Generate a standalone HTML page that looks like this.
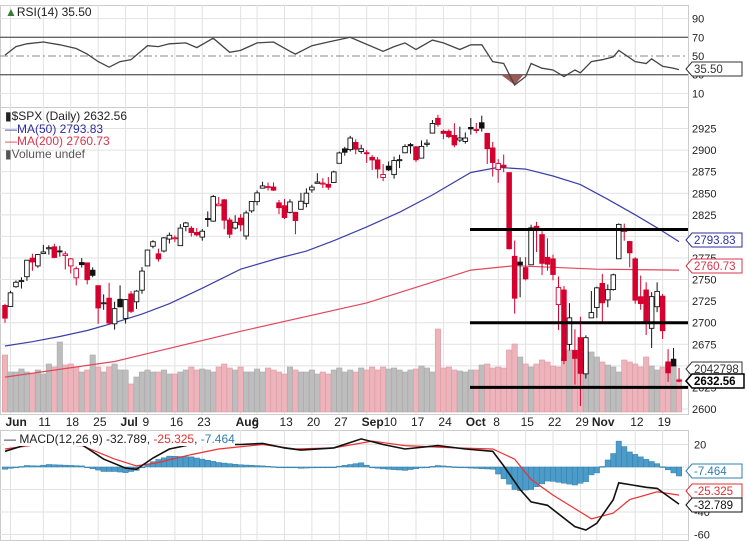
<!DOCTYPE html>
<html><head><meta charset="utf-8">
<style>
body{margin:0;background:#fff;}
svg{display:block;font-family:"Liberation Sans",sans-serif;}
</style></head>
<body>
<svg id="chart" width="747" height="541" viewBox="0 0 747 541" xmlns="http://www.w3.org/2000/svg"></svg>
<script>
// ---- DATA ----
const opens=[2720,2718.7,2741.7,2748.5,2753.3,2774.8,2765.8,2780.2,2785.6,2787.9,2783.2,2777.8,2765.8,2752.0,2769.7,2769.3,2760.8,2742.9,2722.1,2728.4,2698.7,2727.1,
2704.95,2733.3,2724.2,2737.7,2765.8,2788.6,2779.8,2783.1,2796.9,2797.4,2789.3,2811.4,2809.4,2804.6,2799.2,2820.7,2817.7,2835.5,2842.4,2819.0,2809.7,
2821.2,2800.5,2829.6,2840.3,2855.9,2856.8,2857.2,2838.9,2835.5,2827.9,2827.95,2831.4,2838.3,2853.9,2861.5,2861.0,2860.3,2862.4,2884.7,2901.45,2900.6,2908.9,2898.4,
2896.96,2891.6,2888.6,2868.3,2881.4,2871.6,2888.3,2896.9,2906.4,2903.8,2890.7,2906.6,2919.7,2936.8,2921.8,2921.8,2916.98,2911.65,2910.0,
2926.3,2923.8,2931.7,2919.4,2902.5,2877.5,2882.5,2873.9,2776.9,2770.2,2763.8,2767.1,2811.7,2802.0,2775.7,2773.9,2721.0,2737.9,2674.9,2667.9,2682.7,2640.7,2705.6,
2717.6,2745.5,2726.4,2738.4,2774.1,2806.4,2794.1,2773.9,2730.1,2737.9,2693.5,2718.5,2730.7,2654.6,2657.7,2633.4];
const closes=[2705.3,2734.6,2746.9,2748.8,2772.4,2770.4,2779.0,2782.0,2786.9,2775.6,2782.5,2779.7,2773.9,2762.6,2767.3,2749.8,2754.9,2717.1,2723.1,2699.6,2716.3,2718.4,
2726.7,2713.2,2736.6,2759.8,2784.2,2793.8,2774.0,2798.3,2801.3,2798.4,2809.6,2815.6,2804.5,2801.8,2806.0,2820.4,2846.1,2837.4,2818.8,2802.6,2816.3,
2813.4,2827.2,2840.4,2850.4,2858.5,2857.7,2853.6,2833.3,2821.9,2839.9,2818.4,2840.7,2850.1,2857.1,2863.0,2861.8,2857.0,2874.7,2896.7,2897.5,2914.0,2901.1,2901.5,
2896.7,2888.6,2878.1,2871.7,2877.1,2887.9,2888.9,2904.2,2905.0,2888.8,2904.3,2908.0,2930.8,2929.7,2919.4,2915.6,2906.0,2914.0,2914.0,
2924.6,2923.4,2925.5,2901.6,2885.6,2884.4,2880.3,2785.7,2728.4,2767.1,2750.8,2809.9,2809.2,2768.8,2767.8,2755.9,2740.7,2656.1,2705.6,2658.7,2641.3,2682.6,2711.7,
2740.4,2723.1,2738.3,2755.5,2813.9,2806.8,2781.0,2726.2,2722.2,2701.6,2730.2,2736.3,2690.7,2641.9,2649.9,2632.6];
const highs=[2722,2736.9,2749,2752.6,2772.4,2779.9,2779.4,2790.2,2789.8,2791.5,2789.1,2782.8,2775,2765.1,2774.9,2769.3,2764.2,2742.9,2732.9,2746.1,2724.3,2743.3,
2727.3,2736.6,2737.8,2764.4,2784.6,2795.6,2785.9,2799.2,2804.5,2801.2,2814.2,2816.8,2812.1,2809.7,2808.6,2829.0,2848.0,2845.6,2843.2,2821.7,2824.5,
2825.8,2829.9,2840.4,2853.3,2863.4,2862.4,2862.5,2842.2,2843.4,2843.1,2827.95,2850.5,2855.6,2859.8,2873.2,2867.5,2868.8,2876.2,2898.3,2903.8,2916.5,2912.5,2906.3,
2900.2,2894.2,2892.1,2883.8,2886.9,2892.5,2894.6,2906.8,2908.3,2904.7,2911.2,2912.4,2934.8,2940.9,2923.8,2924,2931.2,2927.2,2920.5,
2937.1,2931.4,2939.9,2919.8,2909.6,2889.5,2894.8,2874.0,2795.1,2775.8,2776,2813.5,2816.9,2806.0,2797.8,2778.9,2753.6,2742.6,2722.7,2692.4,2706.9,2685.4,2736.7,
2741.7,2756.6,2744.3,2756.8,2815.1,2814.8,2794.1,2776,2754.6,2746.8,2735.4,2746.75,2733.2,2669.4,2670.7,2647.6];
const lows=[2700,2718.7,2740.5,2739.5,2748.5,2760.2,2763.6,2780.2,2778.8,2774.7,2776.5,2761.7,2757.1,2743.2,2763.9,2744.4,2752.7,2698.7,2714.9,2698.0,2692,2718.0,
2699,2711.2,2716.0,2733.5,2765.8,2786.2,2770.8,2781.5,2791.7,2793.4,2789.2,2805.9,2799.8,2800.0,2795.1,2811.1,2817.0,2835.3,2808.3,2798.1,2808.1,
2805.9,2796.3,2827.4,2836,2855.9,2853.1,2852.7,2825.8,2819.9,2826.6,2802.5,2831.4,2833.7,2850.6,2861.3,2856.1,2854.0,2862.4,2884.7,2893.5,2898.4,2895.2,2895.8,
2885.1,2876.9,2867.3,2864.1,2875.9,2866.8,2879.2,2896.4,2895.8,2886.2,2890.4,2903.8,2919.7,2927.1,2912.6,2913.7,2903.3,2909.3,2907.5,
2917.9,2919.4,2921.4,2883.9,2869.3,2862.1,2874.3,2784.9,2710.5,2729.4,2749.0,2766.9,2781.8,2755.2,2760.3,2749.2,2691.4,2651.9,2667.8,2628.2,2603.5,2635.3,2705.6,
2705.6,2700.4,2717.9,2737.1,2774.1,2795,2764.2,2722.0,2715,2685.8,2670.75,2712.2,2681.1,2631.5,2649.8,2631.1];
const volumes=[57,40,40,43,40,38,42,38,48,45,70,47,48,45,40,42,57,45,40,45,48,42,
42,28,35,40,42,40,40,42,38,38,40,42,45,42,43,42,40,45,48,44,42,
45,40,40,43,40,44,42,40,38,45,42,40,40,42,38,40,38,42,44,40,42,40,44,
42,45,42,45,43,44,42,40,42,43,46,44,40,83,44,45,42,41,40,
42,42,47,48,44,45,44,62,68,55,48,45,48,52,50,46,45,55,62,54,48,58,60,
55,50,47,45,40,52,50,48,45,55,46,42,45,48,46,33];
const ma50Idx=[0,5,10,15,20,25,30,36,43,50,55,60,66,72,78,85,90,95,100,105,110,115,119,123];
const ma50Val=[2673,2678,2684,2691,2700,2710,2722,2740,2762,2775,2783,2795,2811,2828,2848,2874,2880,2878,2870,2860,2843,2825,2810,2794];
const ma200Idx=[0,20,43,66,85,93,108,123];
const ma200Val=[2637,2655,2690,2723,2761,2766,2762,2761];
const rsiIdx=[0,2,4,7,10,13,15,17,19,21,23,26,28,30,33,35,38,41,43,46,49,52,53,56,59,63,65,69,71,73,75,78,80,83,85,87,89,91,93,95,96,98,100,102,104,105,107,109,111,112,115,117,118,120,122,123];
const rsiVal=[51,60,63,65,62,58,52,44,38,44,46,61,60,63,64,59,69,54,56,64,65,55,52,61,65,70,65,55,60,64,57,67,64,57,62,62,44,42,19,28,42,37,35,28,35,32,44,46,49,56,44,42,47,39,37,35.5];
const macdIdx=[0,4,8,14,18,22,24,27,30,34,37,43,47,51,54,60,65,69,73,79,84,89,91,94,96,99,104,106,108,111,112,117,119,123];
const macdVal=[14,20,22,20,7,-1,-2,8,16,20,20,20,21,17,15,17,25,20,16,19,16,14,1,-20,-31,-34,-53,-56,-50,-29,-14,-18,-19,-33];
const sigIdx=[0,6,14,20,24,28,34,39,47,53,60,67,73,82,89,93,96,100,104,107,111,114,119,123];
const sigVal=[16,20,19,7,1,4,11,16,20,16,17,23,19,17,16,7,-11,-25,-37,-46,-41,-29,-22,-25];
const priceTicks=[2600,2625,2650,2675,2700,2725,2750,2775,2800,2825,2850,2875,2900,2925];
const rsiTicks=[10,30,50,70,90];
const macdTicks=[20,0,-20,-40,-60];
const dateLabels=["Jun","11","18","25","Jul","9","16","23","Aug","6","13","20","27","Sep","10","17","24","Oct","8","15","22","29","Nov","12","19"];
const dateIdx=[1,7,12,17,22,26,31,36,43,46,51,56,61,66,70,75,80,85,90,95,100,105,108,115,120];
const levelLines=[2808,2700,2625];

// ---- AXES ----
const PR=688;
const xi=i=>5+i*5.48;
const yP=p=>409-(p-2600)*0.863;
const yR=r=>56-(r-50)*0.935;
const yM=m=>467-m*1.125;
const yV=v=>412-v;
const svg=document.getElementById('chart');
const NS='http://www.w3.org/2000/svg';
function el(tag,attrs,parent){const e=document.createElementNS(NS,tag);for(const k in attrs)e.setAttribute(k,attrs[k]);(parent||svg).appendChild(e);return e;}
function txt(s,attrs,parent){const e=el('text',attrs,parent);e.textContent=s;return e;}
function interp(idx,val){const out=[];for(let i=0;i<=123;i++){let k=0;while(k<idx.length-2&&idx[k+1]<i)k++;const t=(i-idx[k])/(idx[k+1]-idx[k]);out.push(val[k]+(val[k+1]-val[k])*Math.max(0,Math.min(1,t)));}return out;}
function pathOf(idx,val,yf){return idx.map((d,j)=>(j?'L':'M')+xi(d).toFixed(1)+' '+yf(val[j]).toFixed(1)).join(' ');}

const panels=[[5,107,'rsi-panel'],[107,414,'price-panel'],[430,540,'macd-panel']];
panels.forEach(p=>{const r=el('rect',{x:0.5,y:p[0]+0.5,width:PR,height:p[1]-p[0],fill:'none',stroke:'#ccc'});

});

dateIdx.forEach((d,j)=>{
 [[5,107],[107,414],[430,540]].forEach(p=>{const l=el('line',{x1:xi(d),x2:xi(d),y1:p[0],y2:p[1],stroke:'#e2e2e2'});
 
 });
 const isMonth=/[A-Za-z]/.test(dateLabels[j]);
 const t=txt(dateLabels[j],{x:xi(d)-5,y:426,'font-size':'12','font-weight':isMonth?'bold':'normal',fill:'#222'});
 
 
});

priceTicks.forEach(p=>{
 const l=el('line',{x1:0,x2:PR,y1:yP(p),y2:yP(p),stroke:'#e2e2e2'});
 
 
 const t=txt(String(p),{x:692,y:yP(p)+4,'font-size':'11',fill:'#222'});
 
 
});

rsiTicks.forEach(r=>{
 const strong=(r===70||r===30);
 const l=el('line',{x1:0,x2:PR,y1:yR(r),y2:yR(r),stroke:strong?'#666':(r===50?'#888':'#e2e2e2'),'stroke-width':strong?1.3:1,'stroke-dasharray':r===50?'8 3 2 3':'none'});
 
 
 const t=txt(String(r),{x:692,y:yR(r)+4,'font-size':'11',fill:'#222'});
 
 
});
macdTicks.forEach(m=>{
 const l=el('line',{x1:0,x2:PR,y1:yM(m),y2:yM(m),stroke:'#e2e2e2'});
 
 
 const t=txt(String(m),{x:694,y:yM(m)+4,'font-size':'11',fill:'#222'});
 
 
});

volumes.forEach((v,i)=>{
 const down=i===0||closes[i]<closes[i-1];
 const r=el('rect',{x:xi(i)-2.7,y:yV(v),width:5.4,height:v,fill:down?'#eeb4bb':'#bdbdbd',stroke:down?'#dc9ba3':'#a8a8a8','stroke-width':0.6});
 
 
});

const m50=el('path',{d:pathOf(ma50Idx,ma50Val,yP),fill:'none',stroke:'#3b3fa8','stroke-width':1.2});


const m200=el('path',{d:pathOf(ma200Idx,ma200Val,yP),fill:'none',stroke:'#e0485c','stroke-width':1.2});



closes.forEach((c,i)=>{
 const o=opens[i];const up=i===0?false:c>=closes[i-1];
 const col=up?'#111':'#d6002f';
 const x=xi(i);
 const w=el('line',{x1:x,x2:x,y1:yP(highs[i]),y2:yP(lows[i]),stroke:col,'stroke-width':1});
 
 
 const top=yP(Math.max(o,c)),bot=yP(Math.min(o,c));
 const hollow=c>o;
 const b=el('rect',{x:x-2.3,y:top,width:4.6,height:Math.max(1,bot-top),fill:hollow?'#fff':col,stroke:col,'stroke-width':0.9});
 
 
});

levelLines.forEach(p=>{
 const l=el('line',{x1:470,x2:688,y1:yP(p),y2:yP(p),stroke:'#000','stroke-width':3});
 
 
});

const rf=el('path',{d:'M'+xi(90.5)+' '+yR(30)+' L'+xi(93)+' '+yR(19)+' L'+xi(94.6)+' '+yR(30)+' Z',fill:'#9b5a55'});


const rl=el('path',{d:pathOf(rsiIdx,rsiVal,yR),fill:'none',stroke:'#444','stroke-width':1.3});



const mFull=interp(macdIdx,macdVal),sFull=interp(sigIdx,sigVal);
mFull.forEach((m,i)=>{
 const h=m-sFull[i];
 const y0=yM(0),y1=yM(h);
 const r=el('rect',{x:xi(i)-2.7,y:Math.min(y0,y1),width:5.4,height:Math.max(0.8,Math.abs(y1-y0)),fill:'#4d9bc8',stroke:'#2f7fae','stroke-width':0.5});
 
 
});
const sl=el('path',{d:pathOf(sigIdx,sigVal,yM),fill:'none',stroke:'#f03030','stroke-width':1.2});


const ml=el('path',{d:pathOf(macdIdx,macdVal,yM),fill:'none',stroke:'#111','stroke-width':1.6});



function tag(s,y,col,bold,name){
 const g=el('g',{});
 
 
 const w=bold?52:50;
 el('path',{d:`M686 ${y} L692 ${y-7} L${692+w} ${y-7} L${692+w} ${y+7} L692 ${y+7} Z`,fill:'#fff',stroke:col,'stroke-width':bold?1.5:1},g);
 txt(s,{x:694,y:y+4,'font-size':'11.5','font-weight':bold?'bold':'normal',fill:bold?'#000':col},g);
}
tag('35.50',69,'#333',false,'rsi-value-tag');
tag('2793.83',240,'#2d2f9e',false,'ma50-value-tag');
tag('2760.73',266,'#d9344c',false,'ma200-value-tag');
tag('2042798',369,'#333',false,'volume-value-tag');
tag('2632.56',381,'#000',true,'price-value-tag');
tag('-7.464',471,'#2f7fae',false,'macd-hist-tag');
tag('-25.325',491,'#e03030',false,'macd-signal-tag');
tag('-32.789',505,'#111',false,'macd-value-tag');
</script>
<div style="position:absolute;left:0;top:0;width:747px;height:541px;pointer-events:none;font-family:'Liberation Sans',sans-serif;font-size:12px;">
 <div style="position:absolute;left:5px;top:5px;color:#222;"><span style="color:#3a7a3a">&#9650;</span>RSI(14) 35.50</div>
 <div style="position:absolute;left:5px;top:110px;line-height:12.5px;">
  <div style="color:#222">&#9646;$SPX (Daily) 2632.56</div>
  <div style="color:#2d2f9e">&#8212;MA(50) 2793.83</div>
  <div style="color:#d9344c">&#8212;MA(200) 2760.73</div>
  <div style="color:#555">&#9646;Volume undef</div>
 </div>
 <div style="position:absolute;left:4px;top:432px;color:#222;background:#fff;">&#8212; MACD(12,26,9) -32.789, <span style="color:#e03030">-25.325</span>, <span style="color:#2f7fae">-7.464</span></div>
</div>
</body></html>
